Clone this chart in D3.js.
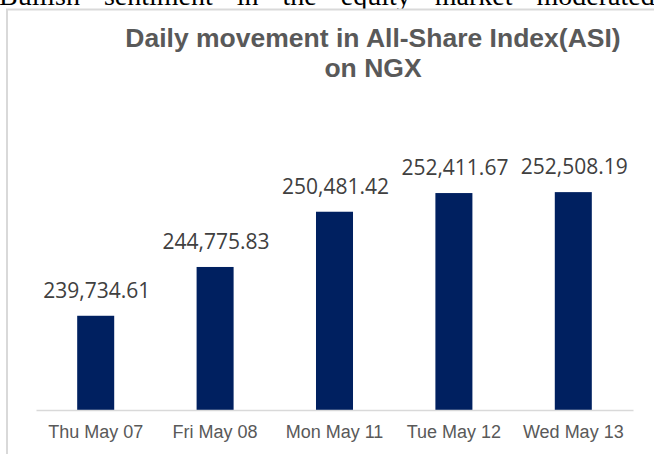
<!DOCTYPE html>
<html>
<head>
<meta charset="utf-8">
<script src="https://cdn.jsdelivr.net/npm/d3@7"></script>
<style>
    html, body { margin: 0; padding: 0; background: #fff; overflow: hidden; }
    svg { display: block; }
</style>
</head>
<body>
<script>
    // values
    let days = ["Thu May 07", "Fri May 08", "Mon May 11", "Tue May 12", "Wed May 13"];
    let asiValues = [239734.61, 244775.83, 250481.42, 252411.67, 252508.19];
    let yDomain = [230000, 255000];
    let titleLines = ["Daily movement in All-Share Index(ASI)", "on NGX"];
    let pageText = "Bullish sentiment in the equity market moderated";

    let W = 654, H = 454;
    let plot = {left: 36, right: 633, top: 168, bottom: 410};

    let svg = d3.select("body").append("svg")
        .attr("width", W)
        .attr("height", H);

    // clipped line of the surrounding document
    svg.append("text")
        .attr("x", -1)
        .attr("y", 4.5)
        .style("font-family", "'Liberation Serif', 'Times New Roman', serif")
        .style("font-size", "28px")
        .style("word-spacing", "17px")
        .style("fill", "#000")
        .text(pageText);

    // chart frame, runs off the right and bottom edges
    svg.append("rect")
        .attr("x", 7)
        .attr("y", 9.5)
        .attr("width", 800)
        .attr("height", 600)
        .style("fill", "#fff")
        .style("stroke", "#d9d9d9")
        .style("stroke-width", 2);

    svg.append("g")
        .selectAll("text")
        .data(titleLines)
        .enter().append("text")
        .attr("x", 373)
        .attr("y", function (d, i) {
            return 47 + i * 30;
        })
        .style("text-anchor", "middle")
        .style("font-family", "'Liberation Sans', Arial, sans-serif")
        .style("font-weight", "bold")
        .style("font-size", "26.5px")
        .style("fill", "#595959")
        .text(function (d) {
            return d;
        });

    let x = d3.scaleBand()
        .domain(days)
        .range([plot.left, plot.right])
        .padding(0);

    let y = d3.scaleLinear()
        .domain(yDomain)
        .range([plot.bottom, plot.top]);

    let barW = x.bandwidth() * 0.31;

    let bars = svg.append("g");

    bars.selectAll("rect")
        .data(asiValues)
        .enter().append("rect")
        .attr("x", function (d, i) {
            return x(days[i]) + (x.bandwidth() - barW) / 2;
        })
        .attr("y", function (d) {
            return y(d);
        })
        .attr("width", barW)
        .attr("height", function (d) {
            return y(yDomain[0]) - y(d);
        })
        .style("fill", "#002060");

    let fmt = d3.format(",.2f");

    bars.selectAll("text")
        .data(asiValues)
        .enter().append("text")
        .attr("x", function (d, i) {
            return x(days[i]) + x.bandwidth() / 2 + 1;
        })
        .attr("y", function (d) {
            return y(d) - 18;
        })
        .style("text-anchor", "middle")
        .style("font-family", "'Open Sans', sans-serif")
        .style("font-size", "21px")
        .style("fill", "#404040")
        .text(function (d) {
            return fmt(d);
        });

    let xAxis = d3.axisBottom(x)
        .tickSize(0)
        .tickPadding(15);

    let gx = svg.append("g")
        .attr("class", "x axis")
        .attr("transform", "translate(0," + plot.bottom + ")")
        .call(xAxis);

    gx.select(".domain")
        .attr("stroke", "#d9d9d9")
        .attr("stroke-width", 1.5);

    gx.selectAll(".tick text")
        .attr("dy", "0")
        .attr("y", 27.5)
        .style("font-family", "'Liberation Sans', Arial, sans-serif")
        .style("font-size", "18px")
        .style("fill", "#595959");
</script>
</body>
</html>
